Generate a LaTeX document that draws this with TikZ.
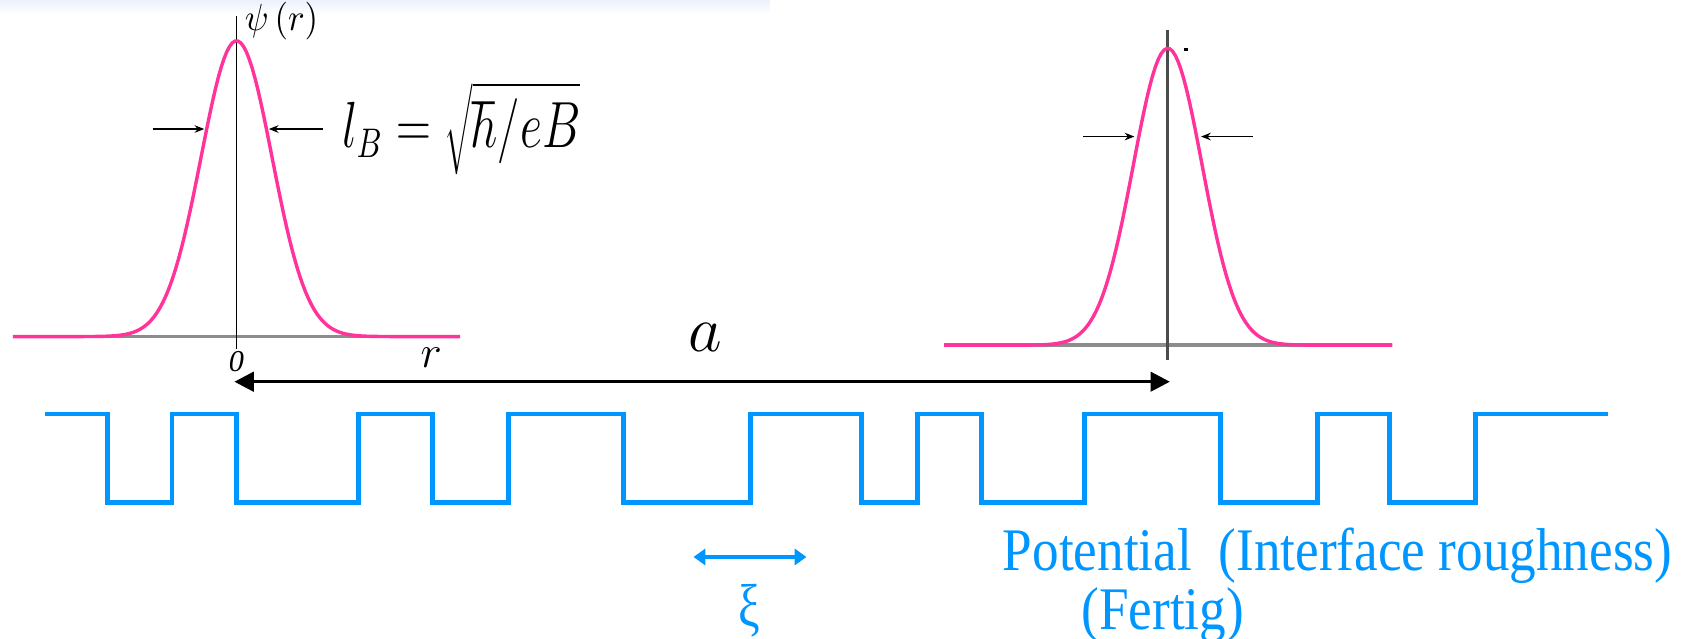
\documentclass[tikz,border=0pt]{standalone}
\usepackage{fontspec}
\setmainfont{Liberation Serif}
\usetikzlibrary{arrows.meta}
\definecolor{wfpink}{RGB}{255,51,153}
\definecolor{wavecol}{RGB}{0,150,255}
\definecolor{band}{RGB}{236,241,252}
\begin{document}
\begin{tikzpicture}[x=0.1mm,y=-0.1mm,
wf/.style={wfpink,line width=0.9pt},
axis/.style={black,line width=0.4pt},
base/.style={black!45,line width=1pt},
warrow/.style={-{Stealth[length=0.9mm,width=0.7mm]},line width=0.45pt},
span/.style={{Triangle[length=1.8mm,width=1.8mm]}-{Triangle[length=1.8mm,width=1.8mm]},line width=0.9pt},
xiarrow/.style={wavecol,{Triangle[length=1.1mm,width=1.5mm]}-{Triangle[length=1.1mm,width=1.5mm]},line width=0.9pt},
wave/.style={wavecol,line width=1.3pt},
bluetext/.style={wavecol,font=\fontsize{16}{19}\selectfont,inner sep=0pt}]
\useasboundingbox (0,0) rectangle (1568,594);
\shade[top color=band,bottom color=white] (0,0) rectangle (716,13);
\draw[base] (12,313) -- (428,313);
\draw[axis] (220,15) -- (220,325);
\draw[wf] plot[domain=12:428,samples=160] (\x,{313-275*exp(-((\x-220)/33)^2/2)});
\draw[base] (878,321) -- (1295,321);
\draw[black!70,line width=0.8pt] (1086,28) -- (1086,335);
\draw[wf] plot[domain=878:1295,samples=160] (\x,{321-276*exp(-((\x-1086)/32)^2/2)});
\draw[line width=0.6pt] (1101,46) -- (1105,46);
\node[inner sep=0pt,anchor=west,font=\fontsize{10}{12}\selectfont] (psi) at (227,20) {\scalebox{0.92}[1]{$\psi\,(r)$}};
\node[inner sep=0pt,anchor=west,font=\fontsize{16}{20}\selectfont] (lB) at (318,120) {\scalebox{0.74}[1]{$l_B=\sqrt{\hbar/eB}$}};
\node[inner sep=0pt,font=\fontsize{8}{10}\selectfont] (zero) at (220,336) {\itshape 0};
\node[inner sep=0pt,font=\fontsize{12}{14}\selectfont] (rlab) at (401,333) {$r$};
\coordinate (wl1) at (142,120); \coordinate (wl2) at (190,120);
\coordinate (wr1) at (300,120); \coordinate (wr2) at (250,120);
\coordinate (vl1) at (1007,127); \coordinate (vl2) at (1055,127);
\coordinate (vr1) at (1165,127); \coordinate (vr2) at (1117,127);
\draw[warrow] (wl1) -- (wl2); \draw[warrow] (wr1) -- (wr2);
\draw[warrow] (vl1) -- (vl2); \draw[warrow] (vr1) -- (vr2);
\coordinate (o1) at (218,355); \coordinate (o2) at (1088,355);
\draw[span] (o1) -- (o2);
\node[inner sep=0pt,font=\fontsize{18}{22}\selectfont] (alab) at (656,314) {$a$};
\draw[wave] (42,385) -| (100,467) -| (160,385) -| (220,467) -| (333,385) -| (402,467) -| (473,385)
 -| (580,467) -| (698,385) -| (801,467) -| (853,385) -| (913,467) -| (1009,385) -| (1135,467)
 -| (1225,385) -| (1292,467) -| (1372,385) -- (1495,385);
\coordinate (x1) at (645,518); \coordinate (x2) at (750,518);
\draw[xiarrow] (x1) -- (x2);
\node[bluetext,anchor=north,font=\fontsize{16}{20}\selectfont] (xi) at (697,543) {\scalebox{0.8}[1]{ξ}};
\node[bluetext,anchor=west] (pot) at (932,517) {\scalebox{0.88}[1]{Potential\ \ (Interface roughness)}};
\node[bluetext,anchor=west] (fertig) at (1005,572) {\scalebox{0.88}[1]{(Fertig)}};
\end{tikzpicture}
\end{document}
